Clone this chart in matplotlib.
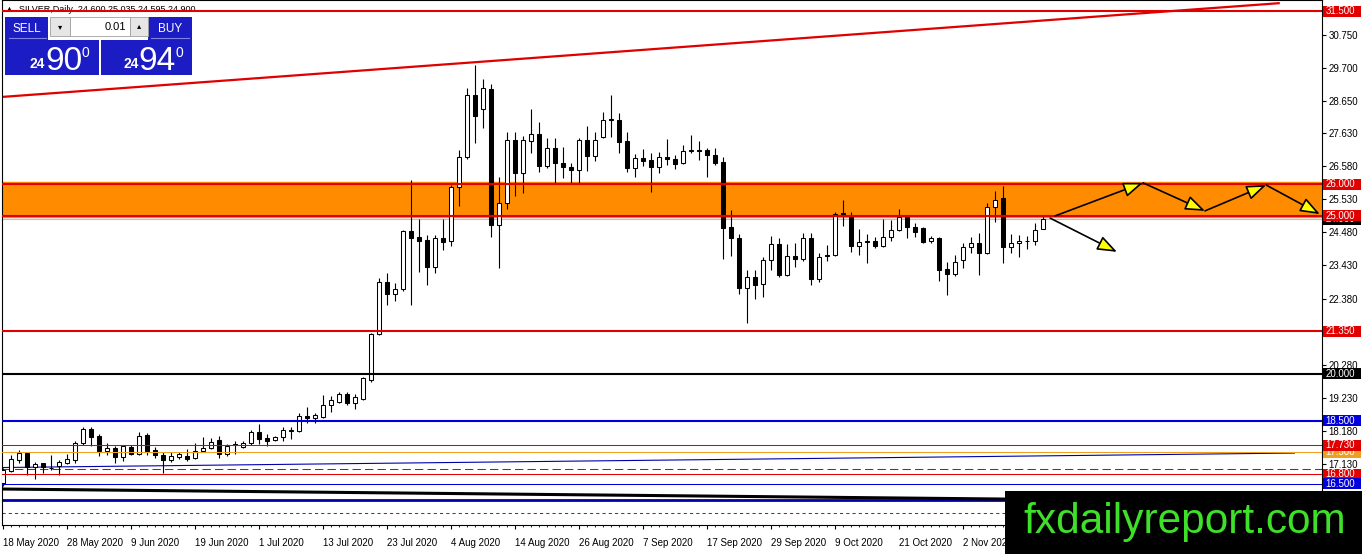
import numpy as np
import matplotlib
matplotlib.use('Agg')
import matplotlib.pyplot as plt
from matplotlib.patches import Rectangle

plt.rcParams['font.family'] = ['Liberation Sans', 'DejaVu Sans']

# SILVER daily bars, 18 May 2020 -> mid Nov 2020
opens = [16.54, 16.91, 17.26, 17.47, 17.05, 17.15, 17.00, 17.07, 17.17, 17.26,
         17.81, 18.23, 18.02, 17.56, 17.63, 17.34, 17.68, 17.45, 18.05, 17.58,
         17.42, 17.26, 17.37, 17.39, 17.31, 17.55, 17.63, 17.89, 17.45, 17.73,
         17.68, 17.79, 18.14, 17.95, 17.89, 17.98, 18.18, 18.19, 18.67, 18.58,
         18.63, 19.00, 19.11, 19.35, 19.06, 19.21, 19.80, 21.25, 22.92, 22.51,
         22.68, 24.52, 24.32, 24.24, 23.39, 24.29, 24.22, 25.93, 26.86, 28.84,
         28.38, 29.02, 24.71, 25.42, 27.41, 26.35, 27.39, 27.60, 26.58, 27.14,
         26.67, 26.54, 26.46, 27.41, 26.91, 27.49, 28.04, 28.04, 27.38, 26.51,
         26.83, 26.77, 26.56, 26.88, 26.80, 26.67, 27.07, 27.10, 27.09, 26.92,
         26.72, 24.64, 24.29, 22.70, 23.05, 22.83, 23.60, 24.11, 23.13, 23.73,
         23.62, 24.29, 22.99, 23.77, 23.76, 25.08, 25.00, 24.05, 24.19, 24.21,
         24.05, 24.32, 24.55, 24.96, 24.64, 24.61, 24.21, 24.29, 23.31, 23.16,
         23.60, 24.01, 24.15, 23.81, 25.27, 25.56, 24.03, 24.13, 24.19, 24.19,
         24.60]
highs = [17.00, 17.42, 17.58, 17.52, 17.20, 17.18, 17.42, 17.26, 17.44, 17.87,
         18.32, 18.32, 18.10, 17.79, 17.70, 17.74, 17.74, 18.14, 18.13, 17.68,
         17.52, 17.52, 17.52, 17.60, 17.79, 17.98, 17.95, 18.03, 17.77, 17.87,
         17.87, 18.21, 18.40, 18.07, 18.02, 18.32, 18.30, 18.74, 18.95, 18.76,
         19.32, 19.29, 19.43, 19.43, 19.35, 19.90, 21.30, 23.02, 23.18, 22.86,
         24.56, 26.14, 24.89, 24.40, 24.40, 24.89, 25.98, 27.09, 29.05, 29.79,
         29.33, 29.19, 26.22, 27.67, 27.67, 27.54, 28.38, 27.99, 27.46, 27.46,
         27.18, 26.67, 27.46, 27.85, 27.67, 28.31, 28.84, 28.28, 27.67, 26.96,
         27.11, 27.01, 27.04, 27.43, 26.93, 27.25, 27.57, 27.39, 27.14, 27.14,
         26.88, 25.19, 24.43, 23.29, 23.29, 23.69, 24.36, 24.29, 24.11, 24.13,
         24.45, 24.45, 23.84, 24.08, 25.14, 25.51, 25.14, 24.58, 24.43, 24.34,
         24.89, 24.87, 25.21, 25.00, 24.77, 24.64, 24.36, 24.32, 23.55, 23.76,
         24.13, 24.32, 24.45, 25.42, 25.80, 25.95, 24.43, 24.40, 24.36, 24.77,
         25.035]
lows = [16.45, 16.88, 17.17, 16.78, 16.65, 16.84, 16.95, 16.78, 17.13, 17.17,
        17.74, 17.70, 17.39, 17.42, 17.15, 17.24, 17.42, 17.42, 17.42, 17.31,
        16.86, 17.20, 17.28, 17.24, 17.28, 17.50, 17.60, 17.31, 17.39, 17.45,
        17.63, 17.74, 17.77, 17.70, 17.87, 17.87, 17.92, 18.16, 18.42, 18.42,
        18.60, 18.79, 19.06, 19.00, 18.87, 19.16, 19.74, 21.21, 22.18, 22.31,
        22.63, 22.17, 23.23, 22.81, 23.20, 23.92, 24.05, 25.32, 26.80, 27.30,
        27.78, 24.32, 23.34, 25.21, 25.63, 25.74, 27.01, 26.40, 26.51, 26.01,
        26.19, 26.01, 26.01, 26.44, 26.75, 27.46, 27.49, 26.99, 26.40, 26.22,
        26.58, 25.77, 26.35, 26.62, 26.48, 26.65, 26.99, 26.77, 26.23, 26.62,
        23.62, 23.73, 22.53, 21.59, 22.36, 22.44, 23.29, 23.05, 23.10, 23.39,
        23.58, 22.81, 22.92, 23.58, 23.73, 24.68, 23.87, 23.76, 23.50, 23.97,
        24.02, 24.22, 24.53, 24.29, 24.34, 24.15, 24.13, 22.95, 22.49, 23.08,
        23.34, 23.84, 23.13, 23.79, 24.82, 23.50, 23.84, 23.71, 23.94, 24.08,
        24.595]
closes = [16.94, 17.28, 17.47, 17.05, 17.13, 17.05, 16.99, 17.19, 17.29, 17.79,
          18.23, 18.00, 17.56, 17.63, 17.34, 17.70, 17.45, 18.02, 17.56, 17.42,
          17.26, 17.39, 17.45, 17.28, 17.56, 17.63, 17.84, 17.45, 17.71, 17.74,
          17.79, 18.14, 17.91, 17.87, 18.00, 18.21, 18.19, 18.67, 18.58, 18.69,
          19.00, 19.16, 19.35, 19.06, 19.25, 19.85, 21.26, 22.90, 22.51, 22.68,
          24.52, 24.31, 24.22, 23.39, 24.29, 24.18, 25.93, 26.86, 28.84, 28.18,
          29.05, 24.71, 25.42, 27.41, 26.35, 27.41, 27.60, 26.58, 27.14, 26.67,
          26.54, 26.46, 27.41, 26.91, 27.41, 28.04, 28.05, 27.36, 26.51, 26.83,
          26.75, 26.56, 26.86, 26.80, 26.65, 27.07, 27.08, 27.05, 26.92, 26.67,
          24.61, 24.29, 22.70, 23.05, 22.81, 23.60, 24.11, 23.13, 23.73, 23.62,
          24.29, 22.99, 23.71, 23.72, 25.05, 25.02, 24.05, 24.16, 24.18, 24.05,
          24.32, 24.55, 24.96, 24.64, 24.50, 24.18, 24.29, 23.29, 23.16, 23.55,
          24.01, 24.15, 23.81, 25.27, 25.51, 24.00, 24.15, 24.22, 24.20, 24.55,
          24.90]

date_labels = ['18 May 2020', '28 May 2020', '9 Jun 2020', '19 Jun 2020', '1 Jul 2020',
               '13 Jul 2020', '23 Jul 2020', '4 Aug 2020', '14 Aug 2020', '26 Aug 2020',
               '7 Sep 2020', '17 Sep 2020', '29 Sep 2020', '9 Oct 2020', '21 Oct 2020',
               '2 Nov 2020']
price_ticks = [30.75, 29.70, 28.65, 27.63, 26.58, 25.53, 24.48, 23.43, 22.38,
               20.28, 19.23, 18.18, 17.13]

# horizontal levels with tag colour on the price scale
level_prices = [31.5, 26.0, 25.0, 21.35, 20.0, 18.5, 17.73, 17.5, 16.8, 16.5]
level_colors = ['#e00000', '#e00000', '#e00000', '#e00000', 'black', '#0000dd',
                '#e00000', '#f0a020', '#e00000', '#0000dd']
level_widths = [2, 2, 2, 2, 2, 2, 1, 1, 1, 1]
bid_price = 24.90
zone_low, zone_high = 24.98, 26.09

# other drawn objects (bar index, price)
channel_line = [(-0.375, 28.77), (159.6, 31.75)]
blue_trend = [(-0.375, 17.02), (161.5, 17.48)]
black_trend = [(-0.375, 16.34), (165.0, 15.92)]
blue_flat = 15.99
red_dashed = 16.97
red_dotted = 15.58
path_up = [(131.5, 25.0), (142.5, 26.05), (150.25, 25.16), (157.9, 25.98), (164.6, 25.06)]
path_down = [(130.9, 24.93), (139.25, 23.86)]

W, H = 1362, 554
fig = plt.figure(figsize=(W / 100, H / 100), dpi=100)
ax = fig.add_axes([2 / W, 29 / H, 1320 / W, 525 / H])
ax.set_xlim(-0.125, 164.875)
ax.set_ylim(15.198, 31.849)

# zone and levels
ax.axhspan(zone_low, zone_high, color='#ff8c00', zorder=1)
ax.axhline(bid_price, color='#c0c0c0', lw=0.8, zorder=1.5)
for p, col, lw in zip(level_prices, level_colors, level_widths):
    ax.axhline(p, color=col, lw=lw * 0.75, zorder=4)
ax.axhline(red_dashed, color='#e00000', lw=0.75, ls=(0, (8, 4)), zorder=2)
ax.axhline(red_dotted, color='#e00000', lw=0.75, ls=(0, (3, 3)), zorder=2)
ax.axhline(blue_flat, color='#0000aa', lw=2, zorder=2)

for pts, col, lw in [(channel_line, '#e00000', 1.6), (blue_trend, '#0000aa', 0.8),
                     (black_trend, 'black', 2.2)]:
    ax.plot([pts[0][0], pts[1][0]], [pts[0][1], pts[1][1]], color=col, lw=lw,
            zorder=2.5, solid_capstyle='butt')

# candles
x = np.arange(len(opens))
o = np.array(opens)
c = np.array(closes)
up = c >= o
ax.vlines(x, lows, highs, color='black', lw=0.8, zorder=3)
lo = np.minimum(o, c)
hgt = np.maximum(np.abs(c - o), 0.03)
ax.bar(x[up], hgt[up], bottom=lo[up], width=0.6, facecolor='white',
       edgecolor='black', linewidth=0.75, zorder=3.5)
ax.bar(x[~up], hgt[~up], bottom=lo[~up], width=0.6, facecolor='black',
       edgecolor='black', linewidth=0.75, zorder=3.5)

# scenario arrows
for path in (path_up, path_down):
    for a, b in zip(path[:-1], path[1:]):
        ax.annotate('', xy=b, xytext=a, zorder=5,
                    arrowprops=dict(arrowstyle='-|>,head_length=1.2,head_width=0.45',
                                    mutation_scale=10, fc='yellow', ec='black',
                                    lw=1.2, shrinkA=0, shrinkB=0))

# axes styling
for s in ax.spines.values():
    s.set_color('black')
    s.set_linewidth(0.8)
ax.yaxis.tick_right()
ax.set_yticks(price_ticks)
ax.set_yticklabels(['%.3f' % v for v in price_ticks])
ax.tick_params(axis='y', length=3, width=0.8, labelsize=7, pad=1.5, colors='black')
ax.set_xticks(np.arange(0, 8 * len(date_labels), 8))
ax.set_xticklabels(date_labels, ha='left')
ax.set_xticks(x, minor=True)
ax.tick_params(axis='x', which='major', length=3, width=0.8, labelsize=7, pad=6)
ax.tick_params(axis='x', which='minor', length=1.5, width=0.6)

# price tags on the right scale; later tags cover earlier ones
ybox = 11 / 31.53
tr = ax.get_yaxis_transform()
tag_order = [(bid_price, 'black')] + list(zip(level_prices, level_colors))
tag_order.sort(key=lambda t: {25.0: 1, 17.73: 1}.get(t[0], 0))
for k, (p, col) in enumerate(tag_order):
    z = 6 + 2 * k
    ax.add_patch(Rectangle((1.0008, p - ybox / 2), 0.0285, ybox, transform=tr,
                           facecolor=col, edgecolor='none', clip_on=False, zorder=z))
    ax.text(1.0025, p, '%.3f' % p, transform=tr, color='white', fontsize=7,
            va='center', ha='left', clip_on=False, zorder=z + 1)

ax.text(3 / 1320, 1 - 9 / 525, '\u25b2  SILVER,Daily  24.600 25.035 24.595 24.900',
        transform=ax.transAxes, fontsize=6.5, va='center', ha='left', zorder=1,
        family=['Liberation Sans', 'DejaVu Sans'])

# overlay: trade panel and watermark (pixel coordinates)
ov = fig.add_axes([0, 0, 1, 1], zorder=10)
ov.set_xlim(0, W)
ov.set_ylim(H, 0)
ov.axis('off')
ov.patch.set_alpha(0)

blue = '#1c1cc4'
ov.add_patch(Rectangle((5, 17), 43, 25, fc=blue, ec='none'))
ov.add_patch(Rectangle((148, 17), 44, 25, fc=blue, ec='none'))
ov.add_patch(Rectangle((5, 40), 94, 35, fc=blue, ec='none'))
ov.add_patch(Rectangle((101, 40), 91, 35, fc=blue, ec='none'))
ov.add_patch(Rectangle((50, 17), 20, 19, fc='#e6e6e6', ec='#a0a0a0', lw=0.6))
ov.add_patch(Rectangle((70, 17), 60, 19, fc='white', ec='#a0a0a0', lw=0.6))
ov.add_patch(Rectangle((130, 17), 18, 19, fc='#e6e6e6', ec='#a0a0a0', lw=0.6))
ov.plot([9, 46], [38, 38], color='#8080e0', lw=0.8)
ov.plot([151, 189], [38, 38], color='#8080e0', lw=0.8)
ov.text(27, 29, 'SELL', color='white', fontsize=8.5, ha='center', va='center')
ov.text(170, 29, 'BUY', color='white', fontsize=8.5, ha='center', va='center')
ov.text(60, 27, '\u25be', color='black', fontsize=6, ha='center', va='center',
        family=['DejaVu Sans'])
ov.text(139, 26, '\u25b4', color='black', fontsize=6, ha='center', va='center',
        family=['DejaVu Sans'])
ov.text(126, 27, '0.01', color='black', fontsize=8, ha='right', va='center')
for x0, big in [(30, '90'), (123, '94')]:
    ov.text(x0, 68, '24', color='white', fontsize=10, fontweight='bold',
            ha='left', va='baseline')
    ov.text(x0 + 15, 70, big, color='white', fontsize=24, ha='left', va='baseline')
    ov.text(x0 + 52, 57, '0', color='white', fontsize=10, ha='left', va='baseline')

ov.add_patch(Rectangle((1005, 491), W - 1005, H - 491, fc='black', ec='none'))
ov.text(1185, 522, 'fxdailyreport.com', color='#3ee02a', fontsize=30.5,
        ha='center', va='center')

fig.savefig('out.png', dpi=100)
